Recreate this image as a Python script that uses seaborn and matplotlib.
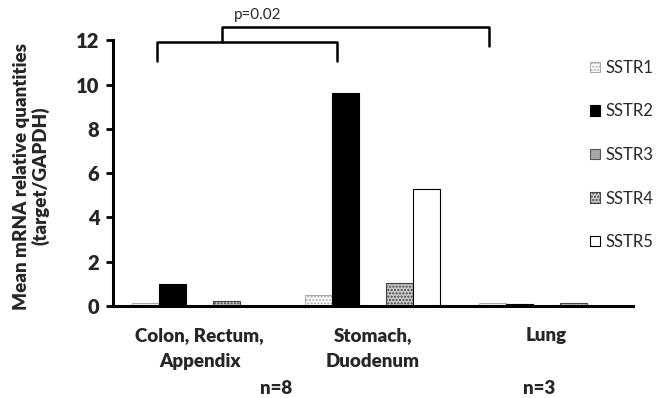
import pandas as pd
import matplotlib.pyplot as plt
import seaborn as sns

# Data
tissues = ["Colon, Rectum,\nAppendix", "Stomach,\nDuodenum", "Lung"]
receptors = ["SSTR1", "SSTR2", "SSTR3", "SSTR4", "SSTR5"]
sstr1 = [0.15, 0.5, 0.15]
sstr2 = [0.98, 9.6, 0.08]
sstr3 = [0.0, 0.0, 0.0]
sstr4 = [0.24, 1.05, 0.15]
sstr5 = [0.0, 5.3, 0.0]
group_n = ["n=8", "n=3"]
p_text = "p=0.02"

values = [sstr1, sstr2, sstr3, sstr4, sstr5]
rows = []
for rec, vals in zip(receptors, values):
    for t, v in zip(tissues, vals):
        rows.append({"tissue": t, "receptor": rec, "value": v})
df = pd.DataFrame(rows)

sns.set_theme(style="ticks")
plt.rcParams["font.family"] = ["Lato", "DejaVu Sans"]

fig = plt.figure(figsize=(6.66, 3.98), dpi=100)
ax = fig.add_axes([0.17, 0.231, 0.78, 0.668])

sns.barplot(data=df, x="tissue", y="value", hue="receptor", order=tissues,
            hue_order=receptors, width=0.78, ax=ax, legend=False)

faces = ["white", "black", "#a6a6a6", "#c8c8c8", "white"]
hatches = [".....", None, None, ".....", None]
edges = ["#aaaaaa", "black", "#555555", "#444444", "black"]
for cont, fc, h, ec in zip(ax.containers, faces, hatches, edges):
    for bar in cont:
        bar.set_facecolor(fc)
        bar.set_edgecolor(ec)
        bar.set_linewidth(0.8)
        if h:
            bar.set_hatch(h)

ax.set_xlim(-0.5, 2.5)
ax.set_ylim(0, 12)
ax.set_yticks(range(0, 13, 2))
ax.set_xlabel("")
ax.set_ylabel("")
for s in ["top", "right"]:
    ax.spines[s].set_visible(False)
for s in ["left", "bottom"]:
    ax.spines[s].set_linewidth(2.2)
    ax.spines[s].set_color("black")
ax.tick_params(axis="y", length=5, width=2, labelsize=14.5, pad=5, color="black")
ax.tick_params(axis="x", length=0, labelsize=13.5, pad=15)
for lab in ax.get_yticklabels() + ax.get_xticklabels():
    lab.set_fontweight("heavy")
for lab in ax.get_xticklabels():
    lab.set_linespacing(1.65)

# significance brackets
kw = dict(color="black", lw=1.8, clip_on=False, solid_joinstyle="round")
ax.plot([-0.246, -0.246, 0.792, 0.792], [11.04, 11.9, 11.9, 11.04], **kw)
ax.plot([0.129, 0.129, 1.67, 1.67], [11.9, 12.58, 12.58, 11.76], **kw)

fig.text(257.5 / 666, 1 - 15 / 398, p_text, ha="center", va="center", fontsize=11)
fig.text(276 / 666, 1 - 388 / 398, group_n[0], ha="center", va="center",
         fontsize=13.5, fontweight="heavy")
fig.text(539 / 666, 1 - 388 / 398, group_n[1], ha="center", va="center",
         fontsize=13.5, fontweight="heavy")
fig.text(31 / 666, 1 - 176 / 398, "Mean mRNA relative quantities\n(target/GAPDH)",
         ha="center", va="center", rotation=90, fontsize=13.5, fontweight="heavy",
         linespacing=1.1)

handles = [cont.patches[0] for cont in ax.containers]
fig.legend(handles, receptors, loc="upper left",
           bbox_to_anchor=(590 / 666, 1 - 60 / 398), frameon=False,
           fontsize=12, handlelength=0.6, handleheight=0.6,
           handletextpad=0.35, labelspacing=1.65, borderpad=0, borderaxespad=0)

fig.savefig("out.png", dpi=100, facecolor="white")
